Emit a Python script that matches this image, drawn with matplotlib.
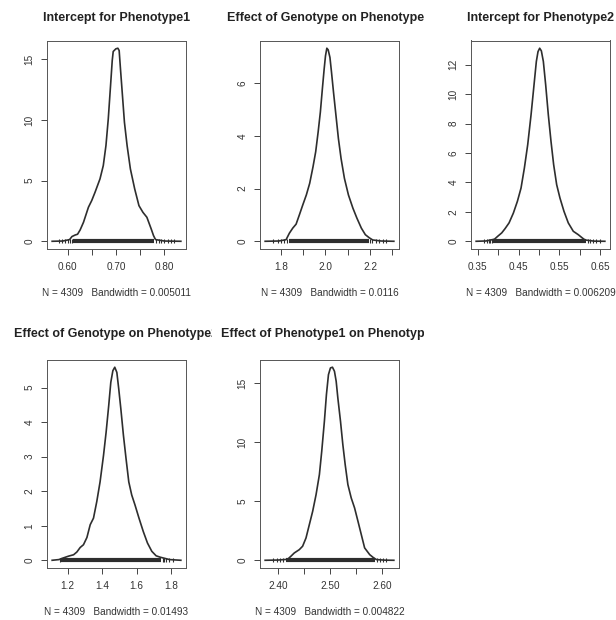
import matplotlib
matplotlib.use("Agg")
import matplotlib.pyplot as plt
from matplotlib.transforms import Bbox, TransformedBbox

plt.rcParams['font.family'] = ['Liberation Sans', 'DejaVu Sans']

# ---- panel texts -------------------------------------------------------
titles = [
    "Intercept for Phenotype1",
    "Effect of Genotype on Phenotype1",
    "Intercept for Phenotype2",
    "Effect of Genotype on Phenotype2",
    "Effect of Phenotype1 on Phenotype2",
]
n_draws = 4309
bandwidths = ["0.005011", "0.0116", "0.006209", "0.01493", "0.004822"]

# ---- kernel density estimates (x grid, density) --------------------------
int_p1_x = [0.568, 0.590, 0.6041, 0.6089, 0.6157, 0.6205, 0.6259, 0.6328, 0.6430,
            0.6498, 0.6567, 0.6669, 0.6737, 0.6792, 0.6840, 0.6887, 0.6922, 0.6942,
            0.6997, 0.7038, 0.7065, 0.7092, 0.7133, 0.7174, 0.7229, 0.7297, 0.7386,
            0.7474, 0.7556, 0.7638, 0.7727, 0.7775, 0.7816, 0.800, 0.834]
int_p1_y = [0.0, 0.02, 0.14, 0.39, 0.52, 0.58, 0.94, 1.57, 2.81, 3.36, 4.05, 5.15,
            6.25, 7.90, 10.10, 12.85, 14.92, 15.66, 15.88, 15.93, 15.74, 14.23, 12.03,
            9.82, 7.90, 5.97, 4.32, 2.94, 2.39, 1.98, 1.02, 0.47, 0.14, 0.02, 0.0]

gen_p1_x = [1.729, 1.790, 1.823, 1.838, 1.853, 1.868, 1.883, 1.898, 1.914, 1.929,
            1.944, 1.956, 1.967, 1.977, 1.986, 1.994, 2.000, 2.006, 2.012, 2.020,
            2.027, 2.036, 2.047, 2.058, 2.070, 2.085, 2.103, 2.123, 2.141, 2.161,
            2.179, 2.197, 2.212, 2.250, 2.307]
gen_p1_y = [0.0, 0.01, 0.06, 0.31, 0.50, 0.65, 1.01, 1.38, 1.76, 2.20, 2.83, 3.40,
            4.15, 4.91, 5.79, 6.54, 7.04, 7.33, 7.27, 6.98, 6.42, 5.66, 4.78, 3.90,
            3.14, 2.39, 1.76, 1.26, 0.88, 0.50, 0.25, 0.13, 0.05, 0.01, 0.0]

int_p2_x = [0.346, 0.370, 0.3909, 0.3990, 0.4088, 0.4170, 0.4268, 0.4374, 0.4473,
            0.4562, 0.4644, 0.4726, 0.4808, 0.4881, 0.4938, 0.4979, 0.5020, 0.5061,
            0.5110, 0.5167, 0.5232, 0.5298, 0.5363, 0.5437, 0.5518, 0.5616, 0.5722,
            0.5845, 0.5967, 0.6065, 0.6131, 0.635, 0.662]
int_p2_y = [0.0, 0.02, 0.14, 0.34, 0.57, 0.86, 1.25, 1.92, 2.72, 3.62, 4.98, 6.57,
            8.60, 10.64, 12.23, 12.90, 13.13, 12.95, 12.23, 10.64, 8.60, 6.79, 5.21,
            3.85, 2.94, 2.04, 1.25, 0.68, 0.45, 0.23, 0.09, 0.01, 0.0]

gen_p2_x = [1.111, 1.150, 1.177, 1.206, 1.235, 1.254, 1.273, 1.292, 1.312, 1.331,
            1.350, 1.369, 1.388, 1.408, 1.423, 1.438, 1.450, 1.462, 1.473, 1.485,
            1.496, 1.508, 1.523, 1.538, 1.554, 1.571, 1.590, 1.613, 1.638, 1.662,
            1.687, 1.712, 1.735, 1.790, 1.855]
gen_p2_y = [0.0, 0.02, 0.07, 0.12, 0.16, 0.24, 0.37, 0.45, 0.66, 1.03, 1.22, 1.70,
            2.27, 3.04, 3.71, 4.48, 5.15, 5.49, 5.59, 5.44, 4.96, 4.39, 3.62, 2.95,
            2.27, 1.89, 1.60, 1.22, 0.83, 0.50, 0.26, 0.13, 0.09, 0.02, 0.0]

p1_p2_x = [2.375, 2.400, 2.4180, 2.4244, 2.4309, 2.4405, 2.4469, 2.4534, 2.4598,
           2.4662, 2.4727, 2.4791, 2.4836, 2.4887, 2.4926, 2.4965, 2.5003, 2.5042,
           2.5080, 2.5113, 2.5145, 2.5196, 2.5241, 2.5286, 2.5338, 2.5402, 2.5466,
           2.5531, 2.5595, 2.5659, 2.5756, 2.5820, 2.5884, 2.605, 2.622]
p1_p2_y = [0.0, 0.02, 0.08, 0.34, 0.62, 0.90, 1.19, 1.89, 3.02, 4.15, 5.56, 7.26,
           9.24, 11.78, 14.04, 15.73, 16.30, 16.36, 16.02, 15.17, 13.76, 11.78, 9.80,
           8.11, 6.41, 5.28, 4.44, 3.31, 2.18, 1.05, 0.48, 0.25, 0.06, 0.01, 0.0]

# ---- rug of the draws: dense core and sparse tail draws -------------------
rug_core = [(0.611, 0.7795), (1.838, 2.194), (0.388, 0.615), (1.160, 1.740), (2.4148, 2.5852)]
rug_tails = [
    [0.583, 0.589, 0.595, 0.600, 0.604, 0.608, 0.783, 0.788, 0.794, 0.800, 0.807, 0.813, 0.819],
    [1.764, 1.785, 1.800, 1.815, 1.826, 2.200, 2.210, 2.225, 2.240, 2.258, 2.272],
    [0.365, 0.372, 0.377, 0.381, 0.385, 0.620, 0.626, 0.633, 0.641, 0.650],
    [1.156, 1.750, 1.760, 1.772, 1.788, 1.810],
    [2.390, 2.398, 2.404, 2.409, 2.590, 2.595, 2.601, 2.607],
]

# ---- axis ticks (R pretty(); only non-overlapping labels shown) ----------
x_ticks = [
    [0.60, 0.65, 0.70, 0.75, 0.80],
    [1.8, 1.9, 2.0, 2.1, 2.2, 2.3],
    [0.35, 0.40, 0.45, 0.50, 0.55, 0.60, 0.65],
    [1.2, 1.4, 1.6, 1.8],
    [2.40, 2.45, 2.50, 2.55, 2.60],
]
x_ticklabels = [
    ["0.60", "", "0.70", "", "0.80"],
    ["1.8", "", "2.0", "", "2.2", ""],
    ["0.35", "", "0.45", "", "0.55", "", "0.65"],
    ["1.2", "1.4", "1.6", "1.8"],
    ["2.40", "", "2.50", "", "2.60"],
]
y_ticks = [
    [0, 5, 10, 15],
    [0, 2, 4, 6],
    [0, 2, 4, 6, 8, 10, 12],
    [0, 1, 2, 3, 4, 5],
    [0, 5, 10, 15],
]

curves = [(int_p1_x, int_p1_y), (gen_p1_x, gen_p1_y), (int_p2_x, int_p2_y),
          (gen_p2_x, gen_p2_y), (p1_p2_x, p1_p2_y)]

W, H = 616, 620
fig = plt.figure(figsize=(W / 100, H / 100), dpi=100)

col_left = [47, 260, 471]
row_top = [40.5, 359.5]
ax_w, ax_h = 139, 208.5
region_w = 212
title_y = [17.5, 334]

ink = "#2e2e2e"
for i, (cx, cy) in enumerate(curves):
    r, c = divmod(i, 3)
    left, top = col_left[c], row_top[r]
    ax = fig.add_axes([left / W, 1 - (top + ax_h) / H, ax_w / W, ax_h / H])

    # density line
    ax.plot(cx, cy, color=ink, lw=1.2, solid_joinstyle="round")
    # rug of draws at zero
    lo, hi = rug_core[i]
    ax.plot([lo, hi], [0, 0], color=ink, lw=3.0, solid_capstyle="butt")
    ax.plot(rug_tails[i], [0] * len(rug_tails[i]), linestyle="none", marker="|",
            markersize=3.5, markeredgewidth=0.8, color=ink)

    # R-style limits: 4% padding around the data range
    xr = cx[-1] - cx[0]
    ymax = max(cy)
    ax.set_xlim(cx[0] - 0.04 * xr, cx[-1] + 0.04 * xr)
    ax.set_ylim(-0.04 * ymax, 1.04 * ymax)

    ax.set_xticks(x_ticks[i])
    ax.set_xticklabels(x_ticklabels[i])
    ax.set_yticks(y_ticks[i])
    ax.set_yticklabels([str(v) for v in y_ticks[i]], rotation=90, va="center")
    ax.tick_params(axis="both", direction="out", length=4.6, width=0.7,
                   colors="#444444", labelcolor="#333333", labelsize=7.2)
    ax.tick_params(axis="x", pad=4.6)
    ax.tick_params(axis="y", pad=4.3)
    for s in ax.spines.values():
        s.set_linewidth(0.7)
        s.set_color("#555555")

    ax.set_xlabel(f"N = {n_draws}   Bandwidth = {bandwidths[i]}",
                  fontsize=7.2, color="#333333", labelpad=11.5)

    # main title, clipped to its figure region as in a multi-panel layout
    t = fig.text((left + ax_w / 2) / W, 1 - title_y[r] / H, titles[i],
                 ha="center", va="center", fontsize=9, fontweight="bold", color="#222222")
    region = Bbox([[c * region_w / W, 1 - (r + 1) * 310 / H],
                   [min((c + 1) * region_w, W) / W, 1 - r * 310 / H]])
    t.set_clip_box(TransformedBbox(region, fig.transFigure))
    t.set_clip_on(True)

fig.savefig("out.png", dpi=100, facecolor="white")
